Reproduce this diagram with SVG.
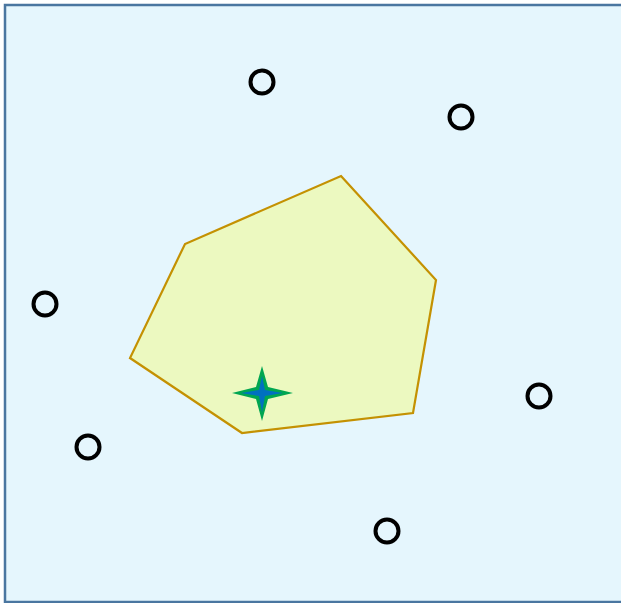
<svg xmlns="http://www.w3.org/2000/svg" width="621" height="603" viewBox="0 0 621 603">
<style>
.pt{fill:none;stroke:#000;stroke-width:4}
</style>
<rect x="0" y="0" width="621" height="603" fill="#ffffff"/>
<rect id="frame" x="5" y="5" width="620" height="597" fill="#e5f6fd" stroke="#4a76a0" stroke-width="2.5"/>
<g id="region">
<polygon points="341,176 436,280 413,413 242,433 130,358 185,244" fill="#ecf9c0" stroke="#c49102" stroke-width="2.2" stroke-linejoin="miter"/>
</g>
<g id="star">
<polygon points="262,366 268,387 293,393 268,399 262,421 256,399 232,393 256,387" fill="#00a651"/>
<polygon points="262,376 265,390 283,393 265,396 262,412 259,396 241,393 259,390" fill="#0070c0"/>
</g>
<g id="points">
<circle id="p1" class="pt" cx="262" cy="82" r="11.5" stroke="#0a1a20"/>
<circle id="p2" class="pt" cx="461" cy="117" r="11.5"/>
<circle id="p3" class="pt" cx="45" cy="304" r="11.5"/>
<circle id="p4" class="pt" cx="88" cy="447" r="11.5"/>
<circle id="p5" class="pt" cx="539" cy="396" r="11.5"/>
<circle id="p6" class="pt" cx="387" cy="531" r="11.5"/>
</g>
<g id="connectors"></g>
</svg>
